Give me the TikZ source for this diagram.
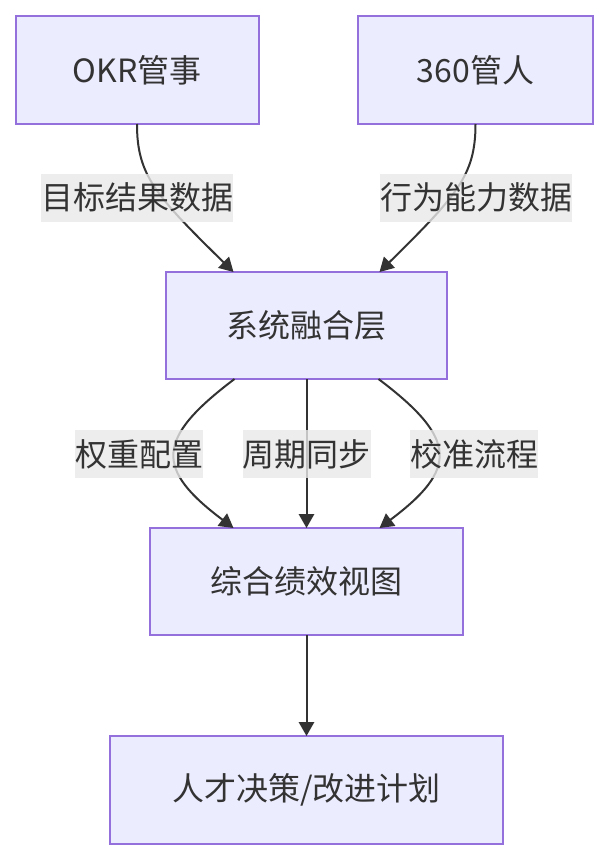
\documentclass[tikz,border=0pt]{standalone}
\usepackage{fontspec}
\setmainfont{Noto Sans CJK SC}
\usetikzlibrary{arrows.meta,calc}
\definecolor{boxfill}{HTML}{ECECFF}
\definecolor{boxline}{HTML}{9370DB}
\definecolor{ink}{HTML}{333333}
\definecolor{labelbg}{HTML}{E8E8E8}
\tikzset{
  box/.style={draw=boxline, fill=boxfill, line width=1.5pt, outer sep=0pt,
    inner sep=0pt, text=ink, font=\fontsize{24pt}{28pt}\selectfont},
  elabel/.style={fill=labelbg, fill opacity=0.8, text opacity=1, text=ink,
    inner xsep=0pt, inner ysep=0pt, minimum height=36pt, outer sep=0pt,
    font=\fontsize{24pt}{28pt}\selectfont},
  conn/.style={draw=ink, line width=1.5pt, -{Triangle[length=10.5pt,width=11.5pt]}}
}
\begin{document}
\begin{tikzpicture}[x=0.75pt,y=-0.75pt]
\useasboundingbox (0,0) rectangle (608,860);
% nodes
\node[box, minimum width=243*0.75pt, minimum height=108*0.75pt] (okr) at (137,70) {OKR管事};
\node[box, minimum width=235*0.75pt, minimum height=108*0.75pt] (p360) at (475.5,70) {360管人};
\node[box, minimum width=281*0.75pt, minimum height=107*0.75pt] (fuse) at (306.5,325.5) {系统融合层};
\node[box, minimum width=313*0.75pt, minimum height=107*0.75pt] (view) at (306.5,581.5) {综合绩效视图};
\node[box, minimum width=393*0.75pt, minimum height=108*0.75pt] (decide) at (306.5,790) {人才决策/改进计划};
% connectors
\draw[conn] (okr.south) .. controls ($(okr.south)+(0,51)$) and ($(okr.south)+(18,71)$) .. ($(fuse.north)+(-73,0)$);
\draw[conn] (p360.south) .. controls ($(p360.south)+(0,51)$) and ($(p360.south)+(-18,71)$) .. ($(fuse.north)+(73,0)$);
\draw[conn] ($(fuse.south)+(-72,0)$) .. controls ($(fuse.south)+(-151.5,60)$) and ($(fuse.south)+(-151.5,90)$) .. ($(view.north)+(-73,0)$);
\draw[conn] (fuse.south) -- (view.north);
\draw[conn] ($(fuse.south)+(72,0)$) .. controls ($(fuse.south)+(151.5,60)$) and ($(fuse.south)+(151.5,90)$) .. ($(view.north)+(73,0)$);
\draw[conn] (view.south) -- (decide.north);
% edge labels
\node[elabel] (l1) at (137,197.5) {目标结果数据};
\node[elabel] (l2) at (476,197.5) {行为能力数据};
\node[elabel] (l3) at (139,454) {权重配置};
\node[elabel] (l4) at (306.5,454) {周期同步};
\node[elabel] (l5) at (474,454) {校准流程};
\end{tikzpicture}
\end{document}
